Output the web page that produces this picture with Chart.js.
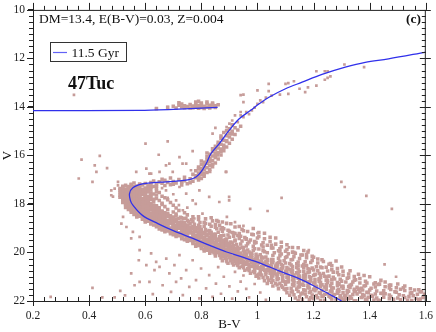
<!DOCTYPE html>
<html><head><meta charset="utf-8">
<script src="https://cdn.jsdelivr.net/npm/chart.js@4.4.1/dist/chart.umd.min.js"></script>
<style>html,body{margin:0;padding:0;background:#fff}canvas{display:block}</style>
</head><body>
<canvas id="c" width="436" height="332"></canvas>
<script>
// ---------- DATA ----------
const xTicks = [0.2,0.4,0.6,0.8,1.0,1.2,1.4,1.6];
const yTicks = [10,12,14,16,18,20,22];
const isoLabel = '11.5 Gyr';
const isoBV = [1.30,1.25,1.20,1.15,1.10,1.05,1.00,0.95,0.89,0.83,0.77,0.70,0.645,0.59,0.556,0.547,0.544,0.556,0.59,0.63,0.675,0.72,0.757,0.781,0.799,0.817,0.834,0.864,0.899,0.935,0.976,1.006,1.041,1.10,1.159,1.23,1.313,1.384,1.467,1.60];
const isoV  = [22.0,21.68,21.37,21.09,20.86,20.63,20.40,20.20,19.98,19.71,19.42,19.10,18.81,18.47,18.05,17.85,17.57,17.33,17.17,17.12,17.09,17.05,17.0,16.89,16.68,16.34,15.93,15.51,14.97,14.49,14.14,13.87,13.60,13.25,12.98,12.66,12.36,12.16,12.02,11.74];
const hbLineBV = [0.2,0.58,0.70,0.78,0.858];
const hbLineV  = [14.15,14.14,14.10,14.06,14.02];

const upperMS = [
[0.56,17.14],[0.58,17.18],[0.55,17.19],[0.60,17.16],[0.62,17.19],
[0.53,17.23],[0.55,17.21],[0.57,17.26],[0.59,17.22],[0.54,17.28],[0.61,17.25],[0.56,17.29],[0.58,17.24],[0.52,17.27],[0.63,17.28],
[0.52,17.31],[0.54,17.33],[0.55,17.37],[0.57,17.32],[0.58,17.36],[0.60,17.34],[0.53,17.38],[0.56,17.35],[0.59,17.39],[0.51,17.36],[0.62,17.31],[0.55,17.30],[0.57,17.38],[0.61,17.37],[0.64,17.35],[0.54,17.39],
[0.51,17.42],[0.52,17.46],[0.53,17.41],[0.54,17.48],[0.55,17.43],[0.56,17.45],[0.57,17.49],[0.58,17.41],[0.59,17.47],[0.60,17.44],[0.53,17.45],[0.55,17.47],[0.57,17.43],[0.52,17.49],[0.56,17.40],[0.61,17.48],[0.62,17.42],[0.58,17.46],[0.54,17.44],[0.64,17.47],
[0.51,17.53],[0.52,17.57],[0.53,17.51],[0.54,17.55],[0.55,17.58],[0.56,17.52],[0.57,17.56],[0.58,17.59],[0.59,17.54],[0.60,17.57],[0.61,17.51],[0.52,17.54],[0.54,17.59],[0.56,17.56],[0.58,17.53],[0.53,17.58],[0.55,17.52],[0.57,17.50],[0.59,17.58],[0.62,17.55],[0.63,17.59],[0.65,17.53],
[0.51,17.64],[0.52,17.61],[0.53,17.67],[0.54,17.62],[0.55,17.66],[0.56,17.69],[0.57,17.63],[0.58,17.67],[0.59,17.61],[0.60,17.65],[0.61,17.68],[0.52,17.68],[0.54,17.65],[0.56,17.62],[0.58,17.64],[0.53,17.60],[0.55,17.63],[0.57,17.69],[0.60,17.62],[0.62,17.66],[0.64,17.63],[0.66,17.68],
[0.51,17.72],[0.52,17.76],[0.53,17.71],[0.54,17.78],[0.55,17.73],[0.56,17.77],[0.57,17.71],[0.58,17.75],[0.59,17.79],[0.60,17.73],[0.61,17.76],[0.53,17.75],[0.55,17.79],[0.57,17.74],[0.52,17.79],[0.56,17.70],[0.58,17.72],[0.54,17.74],[0.60,17.78],[0.62,17.71],[0.64,17.77],[0.67,17.74],
[0.52,17.83],[0.53,17.87],[0.54,17.81],[0.55,17.85],[0.56,17.89],[0.57,17.82],[0.58,17.86],[0.59,17.80],[0.60,17.84],[0.61,17.88],[0.62,17.82],[0.53,17.80],[0.55,17.88],[0.57,17.85],[0.59,17.87],[0.54,17.84],[0.56,17.82],[0.58,17.89],[0.61,17.85],[0.63,17.81],[0.65,17.86],[0.68,17.83],
[0.52,17.94],[0.53,17.91],[0.54,17.97],[0.55,17.92],[0.56,17.96],[0.57,17.99],[0.58,17.93],[0.59,17.97],[0.60,17.91],[0.61,17.95],[0.62,17.98],[0.53,17.98],[0.55,17.95],[0.57,17.92],[0.59,17.94],[0.54,17.90],[0.56,17.93],[0.58,17.99],[0.60,17.96],[0.63,17.92],[0.66,17.97],[0.69,17.94],
[0.53,18.02],[0.54,18.06],[0.55,18.01],[0.56,18.08],[0.57,18.03],[0.58,18.07],[0.59,18.01],[0.60,18.05],[0.61,18.09],[0.62,18.03],[0.63,18.06],[0.54,18.09],[0.56,18.04],[0.58,18.02],[0.60,18.08],[0.55,18.05],[0.57,18.09],[0.59,18.04],[0.61,18.00],[0.64,18.07],[0.66,18.02],[0.70,18.05],
[0.53,18.14],[0.54,18.11],[0.55,18.17],[0.56,18.12],[0.57,18.16],[0.58,18.19],[0.59,18.13],[0.60,18.17],[0.61,18.11],[0.62,18.15],[0.63,18.18],[0.64,18.13],[0.55,18.19],[0.57,18.14],[0.59,18.18],[0.56,18.10],[0.58,18.15],[0.60,18.12],[0.62,18.19],[0.65,18.16],[0.67,18.11],[0.71,18.17],
[0.54,18.23],[0.55,18.27],[0.56,18.21],[0.57,18.25],[0.58,18.29],[0.59,18.22],[0.60,18.26],[0.61,18.20],[0.62,18.24],[0.63,18.28],[0.64,18.22],[0.65,18.26],[0.56,18.28],[0.58,18.24],[0.60,18.21],[0.57,18.20],[0.59,18.27],[0.61,18.29],[0.63,18.23],[0.66,18.29],[0.68,18.23],[0.72,18.27],
[0.55,18.34],[0.56,18.31],[0.57,18.37],[0.58,18.32],[0.59,18.36],[0.60,18.39],[0.61,18.33],[0.62,18.37],[0.63,18.31],[0.64,18.35],[0.65,18.38],[0.66,18.32],[0.67,18.36],[0.57,18.30],[0.59,18.33],[0.61,18.38],[0.63,18.34],[0.58,18.39],[0.60,18.35],[0.68,18.39],[0.70,18.33],[0.74,18.36],
[0.56,18.43],[0.57,18.47],[0.58,18.41],[0.59,18.45],[0.60,18.49],[0.61,18.42],[0.62,18.46],[0.63,18.40],[0.64,18.44],[0.65,18.48],[0.66,18.42],[0.67,18.46],[0.68,18.43],[0.58,18.48],[0.60,18.44],[0.62,18.41],[0.64,18.47],[0.59,18.40],[0.61,18.49],[0.69,18.49],[0.71,18.41],[0.75,18.45],
[0.57,18.54],[0.58,18.51],[0.59,18.57],[0.60,18.52],[0.61,18.56],[0.62,18.59],[0.63,18.53],[0.64,18.57],[0.65,18.51],[0.66,18.55],[0.67,18.58],[0.68,18.52],[0.69,18.56],[0.70,18.54],[0.59,18.50],[0.61,18.53],[0.63,18.59],[0.65,18.55],[0.60,18.58],[0.71,18.50],[0.73,18.57],[0.77,18.53],
[0.59,18.63],[0.60,18.67],[0.61,18.61],[0.62,18.65],[0.63,18.69],[0.64,18.62],[0.65,18.66],[0.66,18.60],[0.67,18.64],[0.68,18.68],[0.69,18.62],[0.70,18.66],[0.71,18.63],[0.61,18.68],[0.63,18.64],[0.65,18.61],[0.67,18.69],[0.62,18.60],[0.69,18.67],[0.72,18.61],[0.75,18.68],[0.79,18.64],
[0.60,18.74],[0.61,18.71],[0.62,18.77],[0.63,18.72],[0.64,18.76],[0.65,18.79],[0.66,18.73],[0.67,18.77],[0.68,18.71],[0.69,18.75],[0.70,18.78],[0.71,18.72],[0.72,18.76],[0.73,18.74],[0.62,18.70],[0.64,18.73],[0.66,18.79],[0.68,18.75],[0.70,18.70],[0.74,18.78],[0.77,18.72],[0.81,18.76],
[0.62,18.83],[0.63,18.87],[0.64,18.81],[0.65,18.85],[0.66,18.89],[0.67,18.82],[0.68,18.86],[0.69,18.80],[0.70,18.84],[0.71,18.88],[0.72,18.82],[0.73,18.86],[0.74,18.83],[0.75,18.87],[0.64,18.88],[0.66,18.84],[0.68,18.81],[0.70,18.89],[0.72,18.85],[0.76,18.81],[0.79,18.88],[0.83,18.84],
[0.64,18.94],[0.65,18.91],[0.66,18.97],[0.67,18.92],[0.68,18.96],[0.69,18.99],[0.70,18.93],[0.71,18.97],[0.72,18.91],[0.73,18.95],[0.74,18.98],[0.75,18.92],[0.76,18.96],[0.77,18.94],[0.66,18.90],[0.68,18.93],[0.70,18.99],[0.72,18.95],[0.74,18.90],[0.78,18.98],[0.81,18.92],[0.85,18.96],
[0.65,19.03],[0.66,19.07],[0.67,19.01],[0.68,19.05],[0.69,19.09],[0.70,19.02],[0.71,19.06],[0.72,19.00],[0.73,19.04],[0.74,19.08],[0.75,19.02],[0.76,19.06],[0.77,19.03],[0.78,19.07],[0.79,19.01],[0.67,19.08],[0.69,19.04],[0.71,19.09],[0.73,19.01],[0.80,19.05],[0.83,19.09],[0.87,19.03],
[0.67,19.14],[0.68,19.11],[0.69,19.17],[0.70,19.12],[0.71,19.16],[0.72,19.19],[0.73,19.13],[0.74,19.17],[0.75,19.11],[0.76,19.15],[0.77,19.18],[0.78,19.12],[0.79,19.16],[0.80,19.14],[0.81,19.18],[0.69,19.10],[0.71,19.13],[0.73,19.19],[0.75,19.15],[0.82,19.11],[0.86,19.17],[0.90,19.13],
[0.69,19.23],[0.70,19.27],[0.71,19.21],[0.72,19.25],[0.73,19.29],[0.74,19.22],[0.75,19.26],[0.76,19.20],[0.77,19.24],[0.78,19.28],[0.79,19.22],[0.80,19.26],[0.81,19.23],[0.82,19.27],[0.83,19.21],[0.71,19.28],[0.73,19.24],[0.75,19.29],[0.77,19.20],[0.85,19.25],[0.88,19.29],[0.92,19.22],
[0.71,19.34],[0.72,19.31],[0.73,19.37],[0.74,19.32],[0.75,19.36],[0.76,19.39],[0.77,19.33],[0.78,19.37],[0.79,19.31],[0.80,19.35],[0.81,19.38],[0.82,19.32],[0.83,19.36],[0.84,19.34],[0.85,19.38],[0.73,19.30],[0.75,19.33],[0.77,19.39],[0.79,19.35],[0.87,19.31],[0.90,19.37],[0.94,19.33],
[0.73,19.43],[0.74,19.47],[0.75,19.41],[0.76,19.45],[0.77,19.49],[0.78,19.42],[0.79,19.46],[0.80,19.40],[0.81,19.44],[0.82,19.48],[0.83,19.42],[0.84,19.46],[0.85,19.43],[0.86,19.47],[0.87,19.41],[0.75,19.48],[0.77,19.44],[0.79,19.49],[0.81,19.40],[0.89,19.45],[0.92,19.49],[0.96,19.43]
];

const lowerMS = [
[0.75,19.54],[0.76,19.51],[0.77,19.57],[0.78,19.52],[0.79,19.56],[0.80,19.59],[0.81,19.53],[0.82,19.57],[0.83,19.51],[0.84,19.55],[0.85,19.58],[0.86,19.52],[0.87,19.56],[0.88,19.54],[0.89,19.58],[0.78,19.50],[0.80,19.55],[0.83,19.59],[0.92,19.53],[0.97,19.57],
[0.77,19.63],[0.78,19.67],[0.79,19.61],[0.80,19.65],[0.81,19.69],[0.82,19.62],[0.83,19.66],[0.84,19.60],[0.85,19.64],[0.86,19.68],[0.87,19.62],[0.88,19.66],[0.89,19.63],[0.90,19.67],[0.91,19.61],[0.80,19.68],[0.82,19.64],[0.85,19.69],[0.94,19.65],[0.99,19.61],
[0.78,19.74],[0.79,19.71],[0.80,19.77],[0.81,19.72],[0.82,19.76],[0.83,19.79],[0.84,19.73],[0.85,19.77],[0.86,19.71],[0.87,19.75],[0.88,19.78],[0.89,19.72],[0.90,19.76],[0.91,19.74],[0.93,19.78],[0.82,19.70],[0.84,19.75],[0.87,19.79],[0.96,19.73],[1.02,19.77],
[0.80,19.83],[0.81,19.87],[0.82,19.81],[0.83,19.85],[0.84,19.89],[0.85,19.82],[0.86,19.86],[0.87,19.80],[0.88,19.84],[0.89,19.88],[0.90,19.82],[0.91,19.86],[0.92,19.83],[0.93,19.87],[0.95,19.81],[0.84,19.88],[0.86,19.84],[0.89,19.89],[0.99,19.85],[1.05,19.81],
[0.81,19.94],[0.82,19.91],[0.83,19.97],[0.84,19.92],[0.85,19.96],[0.86,19.99],[0.87,19.93],[0.88,19.97],[0.89,19.91],[0.90,19.95],[0.91,19.98],[0.92,19.92],[0.93,19.96],[0.95,19.94],[0.97,19.98],[0.85,19.90],[0.88,19.95],[0.91,19.99],[1.02,19.93],[1.08,19.97],
[0.83,20.03],[0.85,20.07],[0.86,20.01],[0.87,20.05],[0.88,20.09],[0.89,20.02],[0.90,20.06],[0.91,20.00],[0.92,20.04],[0.93,20.08],[0.94,20.02],[0.96,20.06],[0.98,20.03],[0.87,20.08],[0.90,20.04],[1.01,20.09],[1.06,20.01],[1.11,20.05],
[0.85,20.14],[0.87,20.11],[0.88,20.17],[0.89,20.12],[0.90,20.16],[0.91,20.19],[0.92,20.13],[0.93,20.17],[0.94,20.11],[0.95,20.15],[0.96,20.18],[0.98,20.12],[1.00,20.16],[0.89,20.10],[0.92,20.15],[1.03,20.19],[1.08,20.13],[1.13,20.17],
[0.87,20.23],[0.89,20.27],[0.90,20.21],[0.91,20.25],[0.92,20.29],[0.93,20.22],[0.94,20.26],[0.95,20.20],[0.96,20.24],[0.97,20.28],[0.98,20.22],[1.00,20.26],[1.02,20.23],[0.91,20.28],[0.94,20.24],[1.05,20.29],[1.10,20.21],[1.15,20.25],
[0.89,20.34],[0.91,20.31],[0.92,20.37],[0.93,20.32],[0.95,20.36],[0.96,20.39],[0.97,20.33],[0.98,20.37],[0.99,20.31],[1.01,20.35],[1.03,20.38],[1.05,20.32],[0.94,20.35],[1.08,20.36],[1.12,20.30],[1.17,20.38],
[0.91,20.43],[0.93,20.47],[0.94,20.41],[0.95,20.45],[0.97,20.49],[0.98,20.42],[0.99,20.46],[1.00,20.40],[1.02,20.44],[1.03,20.48],[1.05,20.42],[1.07,20.46],[0.96,20.48],[1.10,20.43],[1.14,20.47],[1.19,20.41],
[0.93,20.54],[0.95,20.51],[0.97,20.57],[0.99,20.52],[1.00,20.56],[1.02,20.59],[1.03,20.53],[1.05,20.57],[1.07,20.51],[1.09,20.55],[0.98,20.58],[1.12,20.52],[1.16,20.56],[1.21,20.59],
[0.95,20.63],[0.97,20.67],[0.99,20.61],[1.01,20.65],[1.02,20.69],[1.04,20.62],[1.05,20.66],[1.07,20.60],[1.09,20.64],[1.11,20.68],[1.00,20.64],[1.14,20.62],[1.18,20.67],[1.23,20.63],
[0.97,20.74],[0.99,20.71],[1.01,20.77],[1.03,20.72],[1.05,20.76],[1.06,20.79],[1.08,20.73],[1.10,20.77],[1.12,20.71],[1.04,20.75],[1.15,20.78],[1.20,20.72],[1.25,20.76],
[0.99,20.83],[1.01,20.87],[1.03,20.81],[1.05,20.85],[1.07,20.89],[1.08,20.82],[1.10,20.86],[1.12,20.80],[1.14,20.84],[1.06,20.88],[1.18,20.83],[1.22,20.87],[1.27,20.81],
[1.00,20.94],[1.03,20.91],[1.05,20.97],[1.07,20.92],[1.09,20.96],[1.11,20.99],[1.13,20.93],[1.15,20.97],[1.17,20.91],[1.20,20.95],[1.24,20.98],[1.29,20.92],
[1.02,21.03],[1.05,21.07],[1.07,21.01],[1.09,21.05],[1.11,21.09],[1.13,21.02],[1.15,21.06],[1.17,21.00],[1.19,21.04],[1.22,21.08],[1.27,21.02],[1.32,21.06],
[1.04,21.14],[1.07,21.11],[1.09,21.17],[1.11,21.12],[1.13,21.16],[1.15,21.19],[1.17,21.13],[1.19,21.17],[1.22,21.11],[1.25,21.15],[1.30,21.18],[1.35,21.12],
[1.05,21.23],[1.08,21.27],[1.11,21.21],[1.13,21.25],[1.15,21.29],[1.18,21.22],[1.20,21.26],[1.22,21.20],[1.25,21.24],[1.29,21.28],[1.34,21.22],[1.39,21.26],
[1.07,21.34],[1.10,21.31],[1.13,21.37],[1.16,21.32],[1.18,21.36],[1.21,21.39],[1.23,21.33],[1.26,21.37],[1.29,21.31],[1.33,21.35],[1.38,21.38],[1.43,21.32],
[1.09,21.43],[1.12,21.47],[1.15,21.41],[1.18,21.45],[1.21,21.49],[1.24,21.42],[1.27,21.46],[1.30,21.40],[1.33,21.44],[1.37,21.48],[1.42,21.42],[1.47,21.46],
[1.10,21.54],[1.14,21.51],[1.17,21.57],[1.20,21.52],[1.23,21.56],[1.26,21.59],[1.29,21.53],[1.32,21.57],[1.36,21.51],[1.40,21.55],[1.45,21.58],[1.51,21.52],
[1.12,21.63],[1.16,21.67],[1.19,21.61],[1.22,21.65],[1.25,21.69],[1.29,21.62],[1.32,21.66],[1.35,21.60],[1.39,21.64],[1.44,21.68],[1.49,21.62],[1.55,21.66],
[1.13,21.74],[1.17,21.71],[1.21,21.77],[1.24,21.72],[1.27,21.76],[1.31,21.79],[1.34,21.73],[1.38,21.77],[1.42,21.71],[1.47,21.75],[1.52,21.78],[1.57,21.72],
[1.15,21.83],[1.19,21.87],[1.23,21.81],[1.26,21.85],[1.30,21.89],[1.33,21.82],[1.37,21.86],[1.41,21.80],[1.45,21.84],[1.50,21.88],[1.54,21.82],[1.59,21.86],
[1.16,21.94],[1.20,21.91],[1.24,21.97],[1.28,21.92],[1.31,21.96],[1.35,21.99],[1.39,21.93],[1.43,21.97],[1.47,21.91],[1.51,21.95],[1.55,21.98],[1.58,21.92],
[0.86,18.72],[0.89,18.80],[0.92,18.95],[0.88,19.02],[0.95,19.10],[0.91,19.18],[0.98,19.25],[0.85,18.85],[0.93,19.30],[1.00,19.40],[0.96,19.45],[1.02,19.60],[1.05,19.70],[0.99,19.55],[1.08,19.85],
[1.10,19.95],[1.13,20.00],[1.16,20.10],[1.20,20.20],[1.18,19.98],[1.23,20.30],[1.26,20.45],[1.30,20.60],[1.28,20.35],[1.33,20.75],[1.36,20.90],[1.40,21.00],[1.44,21.15],[1.38,20.95],
[1.42,21.25],[1.47,21.35],[1.52,21.45],[1.56,21.55],[1.50,21.30],[1.58,21.62]
];

const msFill = [
[0.745,18.585],[0.79,18.525],[0.835,18.565],[0.665,18.515],[0.725,18.545],
[0.765,18.655],[0.815,18.615],[0.855,18.685],[0.695,18.645],[0.735,18.605],
[0.755,18.725],[0.795,18.765],[0.84,18.705],[0.875,18.745],[0.715,18.785],
[0.775,18.835],[0.815,18.805],[0.865,18.875],[0.905,18.815],[0.735,18.855],
[0.795,18.945],[0.835,18.915],[0.875,18.985],[0.935,18.925],[0.755,18.965],
[0.815,19.055],[0.855,19.025],[0.895,19.085],[0.945,19.045],[0.775,19.075],[0.985,19.015],
[0.835,19.165],[0.875,19.125],[0.915,19.195],[0.965,19.135],[0.795,19.105],[1.005,19.175],
[0.845,19.245],[0.895,19.275],[0.935,19.215],[0.985,19.265],[0.815,19.235],[1.025,19.205],
[0.865,19.355],[0.915,19.325],[0.955,19.385],[1.005,19.345],[0.835,19.315],[1.045,19.375],
[0.885,19.465],[0.935,19.425],[0.975,19.485],[1.025,19.435],[0.855,19.455],[1.065,19.405],[0.765,19.475],
[0.905,19.565],[0.945,19.525],[0.995,19.585],[1.045,19.545],[0.875,19.505],[1.085,19.575],[0.785,19.535],
[0.925,19.675],[0.965,19.635],[1.015,19.695],[1.065,19.655],[0.895,19.615],[1.105,19.685],[0.805,19.645],[0.855,19.605],
[0.945,19.785],[0.985,19.745],[1.035,19.705],[1.085,19.765],[0.915,19.725],[1.125,19.795],[0.825,19.755],[0.875,19.715],
[0.965,19.895],[1.005,19.855],[1.055,19.815],[1.105,19.875],[0.935,19.835],[1.145,19.805],[0.845,19.865],[0.895,19.825],[0.815,19.845],
[0.985,19.905],[1.025,19.965],[1.075,19.925],[1.125,19.985],[0.955,19.945],[1.165,19.915],[0.865,19.975],[0.915,19.935],[0.835,19.955],
[0.845,20.015],[0.885,20.055],[0.925,20.095],[0.955,20.035],[0.995,20.075],[1.035,20.015],[1.085,20.065],[1.135,20.035],[1.175,20.085],[0.905,20.025],[0.975,20.045],
[0.865,20.125],[0.905,20.165],[0.945,20.105],[0.975,20.145],[1.015,20.185],[1.055,20.125],[1.105,20.175],[1.155,20.105],[1.195,20.155],[0.925,20.135],[0.995,20.195],
[0.885,20.235],[0.925,20.275],[0.965,20.215],[0.995,20.255],[1.035,20.295],[1.075,20.235],[1.125,20.285],[1.175,20.215],[1.215,20.265],[0.945,20.245],[1.015,20.205],
[0.905,20.345],[0.945,20.385],[0.985,20.325],[1.015,20.365],[1.055,20.305],[1.095,20.345],[1.145,20.395],[1.195,20.325],[1.235,20.375],[0.965,20.355],[1.035,20.315],[0.875,20.335],
[0.925,20.455],[0.965,20.495],[1.005,20.435],[1.035,20.475],[1.075,20.415],[1.115,20.455],[1.165,20.495],[1.215,20.435],[1.255,20.485],[0.985,20.465],[1.055,20.425],[0.895,20.445],
[0.945,20.565],[0.985,20.525],[1.015,20.585],[1.045,20.545],[1.085,20.505],[1.125,20.575],[1.175,20.535],[1.225,20.595],[1.265,20.545],[1.065,20.555],[0.915,20.515],[1.145,20.525],
[0.965,20.675],[1.005,20.635],[1.035,20.695],[1.065,20.655],[1.105,20.615],[1.145,20.685],[1.195,20.645],[1.245,20.605],[1.285,20.665],[1.085,20.675],[0.935,20.625],[1.165,20.635],
[0.985,20.785],[1.025,20.745],[1.055,20.705],[1.085,20.765],[1.125,20.725],[1.165,20.795],[1.215,20.755],[1.265,20.715],[1.305,20.775],[1.105,20.745],[0.955,20.735],[1.185,20.705],
[1.005,20.895],[1.045,20.855],[1.075,20.815],[1.105,20.875],[1.145,20.835],[1.185,20.805],[1.235,20.865],[1.285,20.825],[1.325,20.885],[1.125,20.845],[0.975,20.855],[1.205,20.895],
[1.015,20.925],[1.055,20.965],[1.085,20.905],[1.125,20.985],[1.165,20.945],[1.205,20.915],[1.255,20.975],[1.305,20.935],[1.345,20.995],[1.145,20.955],[0.995,20.975],[1.225,20.935],
[1.035,21.045],[1.075,21.085],[1.105,21.025],[1.145,21.065],[1.185,21.005],[1.225,21.045],[1.275,21.095],[1.325,21.035],[1.365,21.075],[1.165,21.085],[1.005,21.055],[1.245,21.015],
[1.055,21.155],[1.095,21.195],[1.125,21.135],[1.165,21.175],[1.205,21.115],[1.245,21.155],[1.295,21.105],[1.345,21.145],[1.385,21.185],[1.185,21.195],[1.025,21.165],[1.265,21.125],
[1.065,21.265],[1.105,21.205],[1.145,21.245],[1.185,21.285],[1.225,21.225],[1.265,21.265],[1.315,21.215],[1.365,21.255],[1.415,21.295],[1.205,21.245],[1.035,21.275],[1.285,21.235],[1.455,21.215],
[1.085,21.375],[1.125,21.315],[1.165,21.355],[1.205,21.395],[1.245,21.335],[1.285,21.375],[1.335,21.325],[1.385,21.365],[1.435,21.305],[1.225,21.345],[1.055,21.385],[1.305,21.395],[1.475,21.345],[1.525,21.385],
[1.105,21.485],[1.145,21.425],[1.185,21.465],[1.225,21.405],[1.265,21.445],[1.305,21.485],[1.355,21.435],[1.405,21.475],[1.455,21.415],[1.245,21.455],[1.075,21.495],[1.325,21.405],[1.495,21.455],[1.545,21.495],
[1.125,21.595],[1.165,21.535],[1.205,21.575],[1.245,21.515],[1.285,21.555],[1.325,21.595],[1.375,21.545],[1.425,21.585],[1.475,21.525],[1.265,21.565],[1.095,21.505],[1.345,21.515],[1.525,21.565],[1.575,21.535],
[1.145,21.605],[1.185,21.645],[1.225,21.685],[1.265,21.625],[1.305,21.665],[1.345,21.605],[1.395,21.655],[1.445,21.695],[1.495,21.635],[1.285,21.675],[1.105,21.655],[1.365,21.625],[1.545,21.675],[1.585,21.615],
[1.155,21.715],[1.195,21.755],[1.235,21.795],[1.275,21.735],[1.315,21.775],[1.355,21.715],[1.405,21.765],[1.455,21.705],[1.505,21.745],[1.295,21.785],[1.115,21.765],[1.375,21.735],[1.555,21.785],[1.595,21.725],
[1.175,21.825],[1.215,21.865],[1.255,21.805],[1.295,21.845],[1.335,21.885],[1.375,21.825],[1.425,21.875],[1.475,21.815],[1.525,21.855],[1.315,21.895],[1.135,21.875],[1.395,21.845],[1.565,21.895],
[1.185,21.935],[1.225,21.975],[1.265,21.915],[1.305,21.955],[1.345,21.995],[1.385,21.935],[1.435,21.985],[1.485,21.925],[1.535,21.965],[1.325,21.905],[1.145,21.985],[1.415,21.955],[1.575,21.945]
];

const sgbStars = [
[0.62,17.12],[0.63,17.05],[0.64,17.18],[0.65,17.09],[0.66,17.15],[0.67,17.02],[0.68,17.11],[0.69,17.21],[0.70,17.07],[0.71,17.14],[0.72,16.99],[0.73,17.10],[0.74,17.04],[0.75,17.17],[0.76,16.96],[0.77,17.06],[0.78,16.92],[0.79,17.01],[0.64,17.26],[0.67,17.24],[0.70,17.19],[0.73,17.22],[0.76,17.12],[0.79,16.86],[0.80,16.95],[0.66,16.98],[0.69,16.93],[0.74,16.90]
];

const rgbLower = [
[0.78,16.84],[0.80,16.80],[0.77,16.78],[0.81,16.75],[0.79,16.72],[0.82,16.70],[0.80,16.66],[0.78,16.63],[0.81,16.60],[0.83,16.57],[0.80,16.54],[0.82,16.51],[0.79,16.48],[0.84,16.46],[0.81,16.43],[0.83,16.40],[0.80,16.37],[0.82,16.33],[0.85,16.31],[0.81,16.28],[0.83,16.25],[0.84,16.21],[0.82,16.18],[0.86,16.15],[0.83,16.12],[0.85,16.08],[0.82,16.05],[0.84,16.02],[0.87,15.98],[0.83,15.95],[0.85,15.92],[0.86,15.88],[0.84,15.85],[0.88,15.81],[0.85,15.77],[0.87,15.73],[0.86,15.69],[0.89,15.65],[0.85,15.62],[0.88,15.58],[0.87,15.54],[0.90,15.50],[0.86,15.46],[0.89,15.42],[0.88,15.37],[0.91,15.33],[0.87,15.29],[0.90,15.24],[0.89,15.19],[0.92,15.14],[0.90,15.09],[0.88,15.05],[0.91,15.00],[0.93,14.95],[0.90,14.90],[0.92,14.86],[0.94,14.80],[0.91,14.74],
[0.79,16.90],[0.81,16.86],[0.83,16.66],[0.79,16.56],[0.81,16.47],[0.84,16.36],[0.80,16.23],[0.83,16.16],[0.85,16.00],[0.82,15.90],[0.87,15.84],[0.84,15.72],[0.88,15.67],[0.86,15.55],[0.89,15.39],[0.87,15.20],[0.91,15.12],[0.89,14.98]
];

const rgbUpper = [
[0.89,14.83],[0.85,14.86],[0.90,14.69],[0.93,14.63],[0.91,14.56],[0.95,14.42],[0.94,14.35],[0.92,14.35],[0.94,14.21],[0.96,14.21],[0.98,14.14],[0.99,14.03],[0.95,13.80],[1.00,13.87],[1.01,13.73],[1.02,13.80],[0.95,13.49],[1.05,13.53],[1.08,13.49],[1.04,13.35],[1.04,13.05],[1.10,13.05],[1.11,13.02],[1.13,12.94],[1.15,13.25],[1.11,13.46],[1.17,13.39],[1.18,13.19],[1.21,13.12],[1.21,12.53],[1.24,12.53],[1.25,12.53],[1.24,12.88],[1.25,12.80],[1.26,12.74],[1.31,12.25],[1.38,12.36],[0.94,13.51],[1.00,13.32],[0.97,14.30],[1.03,13.62]
];

const hbStars = [
[0.70,13.97],[0.72,13.93],[0.73,14.00],[0.74,13.95],[0.75,13.98],[0.76,13.90],[0.77,13.96],[0.77,14.03],[0.78,13.88],[0.78,13.99],[0.79,13.94],[0.80,14.02],[0.80,13.91],[0.81,13.97],[0.82,13.86],[0.82,14.00],[0.83,13.93],[0.83,14.04],[0.84,13.89],[0.84,13.98],[0.85,13.95],[0.85,14.02],[0.86,13.91],[0.76,14.04],[0.79,14.05],[0.81,14.06],[0.74,14.03],[0.68,14.01],[0.64,14.07],[0.71,14.04],[0.80,13.84],[0.78,13.80],[0.84,13.84],[0.73,13.88],[0.72,13.83],[0.79,13.77],[0.82,13.80]
];

const fieldStars = [
[0.373,16.17],[0.363,16.95],[0.42,16.41],[0.426,16.68],[0.412,17.09],[0.438,16.02],[0.464,16.52],[0.503,17.09],[0.491,17.37],[0.479,17.64],[0.485,17.70],[0.503,17.23],[0.479,17.44],[0.521,18.53],[0.515,18.81],[0.533,18.95],[0.556,19.15],[0.58,19.36],[0.55,19.42],
[0.601,15.51],[0.68,15.42],[0.648,15.97],[0.722,16.07],[0.769,15.82],[0.746,16.34],[0.568,16.68],[0.604,16.54],[0.621,16.75],[0.674,16.41],[0.698,16.68],[0.793,16.54],[0.686,16.34],[0.733,16.34],[0.763,16.61],[0.651,16.68],[0.615,16.75],[0.887,16.68],[0.899,17.71],[0.84,15.10],[0.346,13.50],[0.639,14.07],[0.68,14.01],
[0.674,17.44],[0.722,17.30],[0.746,17.57],[0.769,17.85],[0.793,17.44],[0.71,17.85],[0.828,17.71],[0.734,18.26],[0.804,18.40],[0.84,18.67],[0.775,18.60],[0.70,17.60],[0.72,18.05],[0.75,18.15],[0.68,17.75],[0.78,18.00],[0.66,17.35],
[0.889,16.68],[1.299,17.09],[1.311,17.30],[1.388,17.67],[1.086,17.75],[0.864,17.92],[0.899,17.85],[0.974,18.20],[1.036,18.29],[1.479,18.20],[0.891,18.53],[0.859,16.00],[1.453,20.49],[1.494,21.00],[1.112,19.79],[1.183,19.90],[0.95,18.90],[1.00,19.20],[0.92,18.75],
[0.263,21.83],[0.412,21.46],[0.447,21.85],[0.491,21.85],[0.511,21.58],[0.528,21.77],[0.55,20.86],[0.562,21.35],[0.577,20.32],[0.58,21.21],[0.604,20.52],[0.615,21.21],[0.627,21.72],[0.633,20.73],[0.639,20.39],[0.651,20.59],[0.662,21.35],[0.675,20.25],[0.686,20.86],[0.692,21.62],[0.704,20.52],[0.71,21.21],[0.722,20.11],[0.728,21.07],[0.734,21.76],[0.746,20.73],[0.757,21.42],[0.769,20.32],[0.781,21.14],[0.793,21.89],[0.799,20.66],[0.817,21.48],[0.828,20.93],[0.84,21.83],[0.852,21.28],[0.58,19.90],[0.621,20.04],
[0.86,20.60],[0.88,21.00],[0.90,21.40],[0.87,21.70],[0.92,20.80],[0.94,21.20],[0.91,21.90],[0.96,21.50],[0.89,20.40],[0.93,21.60],[0.97,21.85],[0.99,21.30],[1.01,21.65],[1.03,21.95],[0.95,20.95]
];

// ---------- BUILD ----------
const toXY = (bv, v) => bv.map((b, i) => ({x: b, y: v[i]}));
const pairs = arr => arr.map(p => ({x: p[0], y: p[1]}));
const denseStars = [].concat(pairs(upperMS), pairs(lowerMS), pairs(msFill), pairs(sgbStars), pairs(rgbLower), pairs(hbStars));
const sparseStars = [].concat(pairs(rgbUpper), pairs(fieldStars));

const SERIF = "'Liberation Serif', 'Times New Roman', serif";
const lineColor = 'rgb(48,48,235)';
const starColor = 'rgb(198,156,153)';

const deco = {
  id: 'deco',
  afterDraw(chart) {
    const {ctx, chartArea: a, scales: {x, y}} = chart;
    ctx.save();
    ctx.strokeStyle = '#222';
    ctx.lineWidth = 1;
    ctx.beginPath();
    ctx.moveTo(a.left, a.top + 0.5); ctx.lineTo(a.right, a.top + 0.5);
    ctx.moveTo(a.right - 0.5, a.top); ctx.lineTo(a.right - 0.5, a.bottom);
    for (let i = 0; i <= 35; i++) {
      const px = Math.round(x.getPixelForValue(0.2 + i * 0.04)) + 0.5;
      const major = i % 5 === 0;
      ctx.moveTo(px, a.top); ctx.lineTo(px, a.top - (major ? 7 : 4));
      ctx.moveTo(px, a.bottom); ctx.lineTo(px, a.bottom - (major ? 6 : 4));
    }
    for (let j = 0; j <= 48; j++) {
      const py = Math.round(y.getPixelForValue(10 + j * 0.25)) + 0.5;
      const major = j % 8 === 0;
      ctx.moveTo(a.left, py); ctx.lineTo(a.left - (major ? 6 : 4), py);
      ctx.moveTo(a.right, py); ctx.lineTo(a.right - (major ? 6 : 4), py);
      if (major) { ctx.moveTo(a.right, py); ctx.lineTo(a.right + 5, py); }
    }
    ctx.stroke();

    ctx.fillStyle = '#111';
    ctx.textBaseline = 'alphabetic';
    ctx.font = '13.5px ' + SERIF;
    ctx.textAlign = 'left';
    ctx.fillText('DM=13.4, E(B-V)=0.03, Z=0.004', 39, 23);
    ctx.font = 'bold 13.5px ' + SERIF;
    ctx.textAlign = 'right';
    ctx.fillText('(c)', 421, 23);

    ctx.lineWidth = 1;
    ctx.strokeStyle = '#333';
    ctx.strokeRect(50.5, 42.5, 76, 19);
    ctx.strokeStyle = 'rgba(70,70,245,0.85)';
    ctx.lineWidth = 1.2;
    ctx.beginPath(); ctx.moveTo(53, 52.5); ctx.lineTo(67, 52.5); ctx.stroke();
    ctx.fillStyle = '#111';
    ctx.textAlign = 'left';
    ctx.font = '13.5px ' + SERIF;
    ctx.fillText(chart.data.datasets[0].label, 71.5, 57);

    ctx.font = 'bold 18px ' + SERIF;
    ctx.fillText('47Tuc', 68, 89);
    ctx.restore();
  }
};

new Chart(document.getElementById('c'), {
  type: 'scatter',
  data: {
    datasets: [
      {label: isoLabel, data: toXY(isoBV, isoV), showLine: true, pointRadius: 0, borderColor: lineColor, borderWidth: 1.3, tension: 0.35, fill: false},
      {label: 'HB', data: toXY(hbLineBV, hbLineV), showLine: true, pointRadius: 0, borderColor: lineColor, borderWidth: 1.3, tension: 0.3, fill: false},
      {label: 'dense', data: denseStars, showLine: false, pointStyle: 'rect', pointRadius: 2.5, pointBorderWidth: 0, backgroundColor: starColor, borderColor: 'rgba(0,0,0,0)'},
      {label: 'sparse', data: sparseStars, showLine: false, pointStyle: 'rect', pointRadius: 1.9, pointBorderWidth: 0, backgroundColor: starColor, borderColor: 'rgba(0,0,0,0)'}
    ]
  },
  options: {
    responsive: false,
    animation: false,
    devicePixelRatio: 1,
    layout: {padding: {top: 9, right: 8, left: 0, bottom: 0}},
    plugins: {legend: {display: false}, tooltip: {enabled: false}},
    scales: {
      x: {
        type: 'linear', min: 0.2, max: 1.6, position: 'bottom',
        afterBuildTicks: s => { s.ticks = xTicks.map(v => ({value: v})); },
        afterFit: s => { s.height = 31; },
        ticks: {font: {family: SERIF, size: 11.5}, color: '#222', padding: 3, maxRotation: 0,
          callback: v => String(+Number(v).toFixed(1))},
        grid: {drawOnChartArea: false, drawTicks: true, tickLength: 5, color: '#222'},
        border: {color: '#222', width: 1},
        title: {display: true, text: 'B-V', font: {family: SERIF, size: 13}, color: '#111', padding: {top: 0, bottom: 0}}
      },
      y: {
        type: 'linear', min: 10, max: 22, reverse: true,
        afterBuildTicks: s => { s.ticks = yTicks.map(v => ({value: v})); },
        afterFit: s => { s.width = 33; },
        ticks: {font: {family: SERIF, size: 11.5}, color: '#222', padding: 3},
        grid: {drawOnChartArea: false, drawTicks: true, tickLength: 5, color: '#222'},
        border: {color: '#222', width: 1},
        title: {display: true, text: 'V', font: {family: SERIF, size: 13}, color: '#111', padding: {top: 0, bottom: 0}}
      }
    }
  },
  plugins: [deco]
});
</script>
</body></html>
